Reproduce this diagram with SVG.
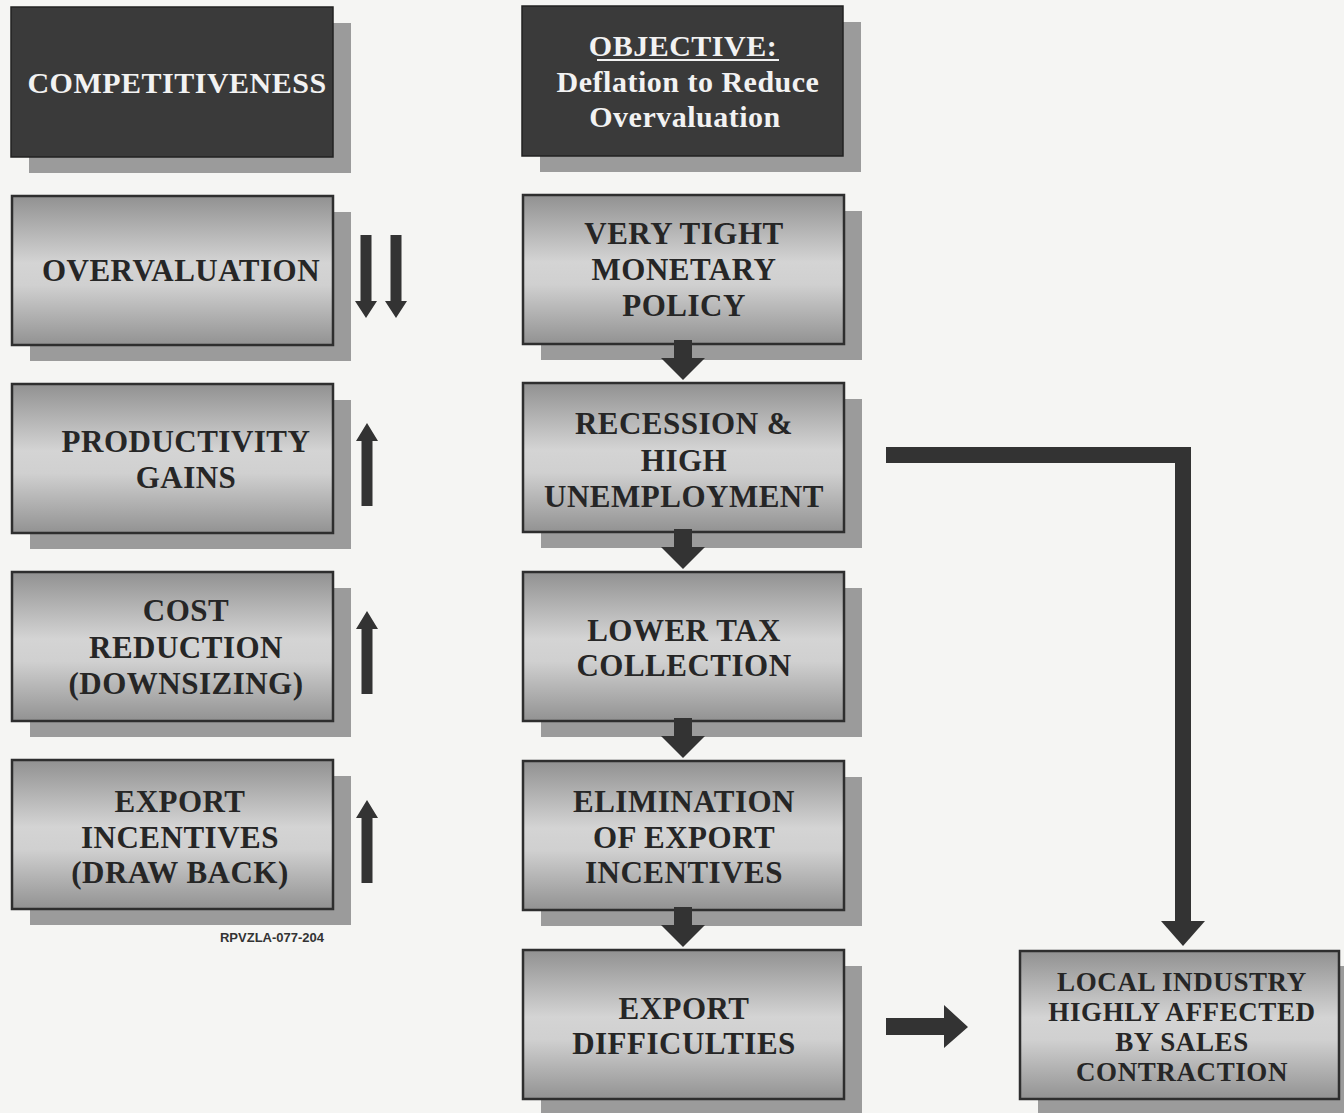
<svg xmlns="http://www.w3.org/2000/svg" width="1344" height="1113" viewBox="0 0 1344 1113">
  <defs>
    <linearGradient id="boxFill" x1="0" y1="0" x2="0" y2="1">
      <stop offset="0" stop-color="#919191"/>
      <stop offset="0.45" stop-color="#d4d4d4"/>
      <stop offset="0.6" stop-color="#d0d0d0"/>
      <stop offset="1" stop-color="#929292"/>
    </linearGradient>
    <!-- block arrow pointing down, tip at origin -->
    <path id="downBig" d="M-9,-40 H9 V-22 H22 L0,0 L-22,-22 H-9 Z"/>
    <path id="downSmall" d="M-5.5,-83 H5.5 V-17 H11 L0,0 L-11,-17 H-5.5 Z"/>
    <path id="upSmall" d="M-5.5,83 H5.5 V18 H11 L0,0 L-11,18 H-5.5 Z"/>
  </defs>
  <style>
    .shadow { fill: #9b9b9b; }
    .box { fill: url(#boxFill); stroke: #2e2e2e; stroke-width: 2.5; }
    .head { fill: #3a3a3a; stroke: #222; stroke-width: 1.5; }
    .lbl { font-family: "Liberation Serif", "Times New Roman", serif; font-weight: bold; font-size: 31px; letter-spacing: 0.5px; fill: #262626; text-anchor: middle; }
    .hlbl { font-family: "Liberation Serif", "Times New Roman", serif; font-weight: bold; font-size: 30px; letter-spacing: 0.5px; fill: #f2f2f2; text-anchor: middle; }
    .small { font-size: 27px; letter-spacing: 0.6px; }
    .code { font-family: "Liberation Sans", Arial, sans-serif; font-weight: bold; font-size: 13px; fill: #333; text-anchor: middle; }
    .arrow { fill: #333; }
  </style>

  <rect width="1344" height="1113" fill="#f5f5f3"/>

  <!-- left column -->
  <g id="competitiveness">
    <rect class="shadow" x="29" y="23" width="322" height="150"/>
    <rect class="head" x="11" y="7" width="322" height="150"/>
    <text class="hlbl" x="177" y="93">COMPETITIVENESS</text>
  </g>
  <g id="overvaluation">
    <rect class="shadow" x="30" y="212" width="321" height="149"/>
    <rect class="box" x="12" y="196" width="321" height="149"/>
    <text class="lbl" x="181" y="281">OVERVALUATION</text>
  </g>
  <g id="productivity">
    <rect class="shadow" x="30" y="400" width="321" height="149"/>
    <rect class="box" x="12" y="384" width="321" height="149"/>
    <text class="lbl" x="186" y="452">PRODUCTIVITY</text>
    <text class="lbl" x="186" y="488">GAINS</text>
  </g>
  <g id="cost-reduction">
    <rect class="shadow" x="30" y="588" width="321" height="149"/>
    <rect class="box" x="12" y="572" width="321" height="149"/>
    <text class="lbl" x="186" y="621">COST</text>
    <text class="lbl" x="186" y="658">REDUCTION</text>
    <text class="lbl" x="186" y="694">(DOWNSIZING)</text>
  </g>
  <g id="export-incentives">
    <rect class="shadow" x="30" y="776" width="321" height="149"/>
    <rect class="box" x="12" y="760" width="321" height="149"/>
    <text class="lbl" x="180" y="812">EXPORT</text>
    <text class="lbl" x="180" y="848">INCENTIVES</text>
    <text class="lbl" x="180" y="883">(DRAW BACK)</text>
  </g>
  <text class="code" x="272" y="942">RPVZLA-077-204</text>

  <!-- middle column -->
  <g id="objective">
    <rect class="shadow" x="540" y="22" width="321" height="150"/>
    <rect class="head" x="522" y="6" width="321" height="150"/>
    <text class="hlbl" x="683" y="56">OBJECTIVE:</text>
    <line x1="597" y1="60" x2="779" y2="60" stroke="#f2f2f2" stroke-width="1.8"/>
    <text class="hlbl" x="688" y="92">Deflation to Reduce</text>
    <text class="hlbl" x="685" y="127">Overvaluation</text>
  </g>
  <g id="monetary-policy">
    <rect class="shadow" x="541" y="211" width="321" height="149"/>
    <rect class="box" x="523" y="195" width="321" height="149"/>
    <text class="lbl" x="684" y="244">VERY TIGHT</text>
    <text class="lbl" x="684" y="280">MONETARY</text>
    <text class="lbl" x="684" y="316">POLICY</text>
  </g>
  <g id="recession">
    <rect class="shadow" x="541" y="399" width="321" height="149"/>
    <rect class="box" x="523" y="383" width="321" height="149"/>
    <text class="lbl" x="684" y="434">RECESSION &amp;</text>
    <text class="lbl" x="684" y="471">HIGH</text>
    <text class="lbl" x="684" y="507">UNEMPLOYMENT</text>
  </g>
  <g id="tax-collection">
    <rect class="shadow" x="541" y="588" width="321" height="149"/>
    <rect class="box" x="523" y="572" width="321" height="149"/>
    <text class="lbl" x="684" y="641">LOWER TAX</text>
    <text class="lbl" x="684" y="676">COLLECTION</text>
  </g>
  <g id="elimination">
    <rect class="shadow" x="541" y="777" width="321" height="149"/>
    <rect class="box" x="523" y="761" width="321" height="149"/>
    <text class="lbl" x="684" y="812">ELIMINATION</text>
    <text class="lbl" x="684" y="848">OF EXPORT</text>
    <text class="lbl" x="684" y="883">INCENTIVES</text>
  </g>
  <g id="export-difficulties">
    <rect class="shadow" x="541" y="966" width="321" height="149"/>
    <rect class="box" x="523" y="950" width="321" height="149"/>
    <text class="lbl" x="684" y="1019">EXPORT</text>
    <text class="lbl" x="684" y="1054">DIFFICULTIES</text>
  </g>

  <!-- right -->
  <g id="local-industry">
    <rect class="shadow" x="1038" y="966" width="321" height="149"/>
    <rect class="box" x="1020" y="951" width="319" height="148"/>
    <text class="lbl small" x="1182" y="991">LOCAL INDUSTRY</text>
    <text class="lbl small" x="1182" y="1021">HIGHLY AFFECTED</text>
    <text class="lbl small" x="1182" y="1051">BY SALES</text>
    <text class="lbl small" x="1182" y="1081">CONTRACTION</text>
  </g>

  <!-- connectors -->
  <g id="connectors" class="arrow">
    <!-- direction markers beside the left column -->
    <use href="#downSmall" x="366" y="318"/>
    <use href="#downSmall" x="396" y="318"/>
    <use href="#upSmall" x="367" y="423"/>
    <use href="#upSmall" x="367" y="611"/>
    <use href="#upSmall" x="367" y="800"/>
    <!-- chain down the middle column -->
    <use href="#downBig" x="683" y="380"/>
    <use href="#downBig" x="683" y="569"/>
    <use href="#downBig" x="683" y="758"/>
    <use href="#downBig" x="683" y="947"/>
    <!-- recession to local industry -->
    <path d="M886,455 H1183 V924" fill="none" stroke="#333" stroke-width="16" stroke-linejoin="miter"/>
    <path d="M1161,921 H1205 L1183,946 Z"/>
    <!-- export difficulties to local industry -->
    <path d="M886,1018 H944 V1005 L968,1027 L944,1048 V1035 H886 Z"/>
  </g>
</svg>
